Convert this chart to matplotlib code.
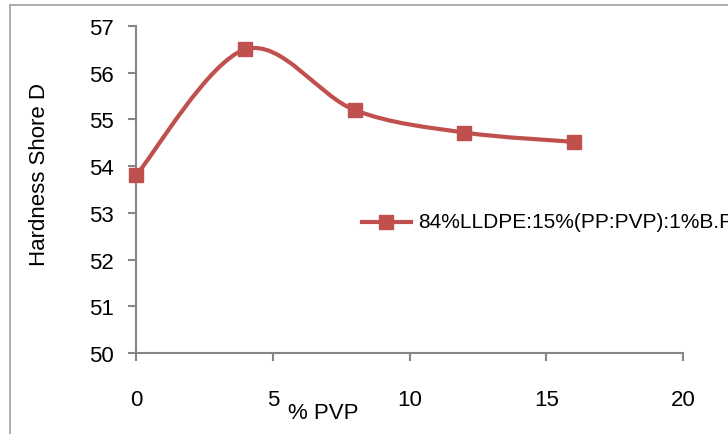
import numpy as np
import matplotlib
matplotlib.use('Agg')
from matplotlib import pyplot as plt
from matplotlib.path import Path
from matplotlib.patches import PathPatch, Rectangle
from matplotlib.lines import Line2D

# data
pvp = [0, 4, 8, 12, 16]
hardness = [53.8, 56.5, 55.2, 54.72, 54.52]
series_label = '84%LLDPE:15%(PP:PVP):1%B.P'
x_ticks = [0, 5, 10, 15, 20]
y_ticks = [50, 51, 52, 53, 54, 55, 56, 57]

RED = '#C0504D'
GRAY = '#868686'

plt.rcParams['font.family'] = ['Liberation Sans', 'DejaVu Sans']


def smooth_path(xs, ys):
    '''Catmull-Rom style bezier, like the smoothed line of a spreadsheet chart'''
    pts = np.column_stack([xs, ys]).astype(float)
    n = len(pts)
    verts = [pts[0]]
    codes = [Path.MOVETO]
    for i in range(n - 1):
        p0 = pts[i - 1] if i > 0 else pts[i]
        p1 = pts[i]
        p2 = pts[i + 1]
        p3 = pts[i + 2] if i + 2 < n else pts[i + 1]
        c1 = p1 + (p2 - p0) / 6.
        c2 = p2 - (p3 - p1) / 6.
        verts += [c1, c2, p2]
        codes += [Path.CURVE4] * 3
    return Path(verts, codes)


fig = plt.figure(figsize=(7.28, 4.35), dpi=100)
fig.patches.append(Rectangle((10 / 728., -0.1), 1.2, 1.1 - 6 / 435.,
                             transform=fig.transFigure, fill=False,
                             edgecolor='#A0A0A0', linewidth=1.2))

ax = fig.add_axes([136 / 728., 1 - 354 / 435., 547 / 728., 327 / 435.])
ax.set_xlim(0, 20)
ax.set_ylim(50, 57)
ax.set_xticks(x_ticks)
ax.set_yticks(y_ticks)
for s in ['top', 'right']:
    ax.spines[s].set_visible(False)
for s in ['left', 'bottom']:
    ax.spines[s].set_color(GRAY)
    ax.spines[s].set_linewidth(1.5)
ax.tick_params(axis='both', direction='out', length=6, width=1.5, color=GRAY,
               labelsize=16)
ax.tick_params(axis='x', pad=20)
ax.tick_params(axis='y', pad=10)

ax.add_patch(PathPatch(smooth_path(pvp, hardness), facecolor='none',
                       edgecolor=RED, linewidth=3, capstyle='round',
                       clip_on=False))
ax.plot(pvp, hardness, linestyle='none', marker='s', markersize=10,
        color=RED, clip_on=False, zorder=3)

fig.text(40 / 728., 1 - 175 / 435., 'Hardness Shore D', rotation=90,
         ha='center', va='center', fontsize=16)
fig.text(323 / 728., 1 - 414 / 435., '% PVP', ha='center', va='center',
         fontsize=16)

# legend, placed by hand so that it runs off the right edge like the original
fig.lines.append(Line2D([362 / 728., 411 / 728.], [1 - 223 / 435.] * 2,
                        transform=fig.transFigure, color=RED, linewidth=3))
fig.lines.append(Line2D([386 / 728.], [1 - 223 / 435.], marker='s',
                        markersize=10, color=RED, transform=fig.transFigure))
fig.text(418 / 728., 1 - 223 / 435., series_label, ha='left', va='center',
         fontsize=15)

plt.savefig('out.png', dpi=100)
